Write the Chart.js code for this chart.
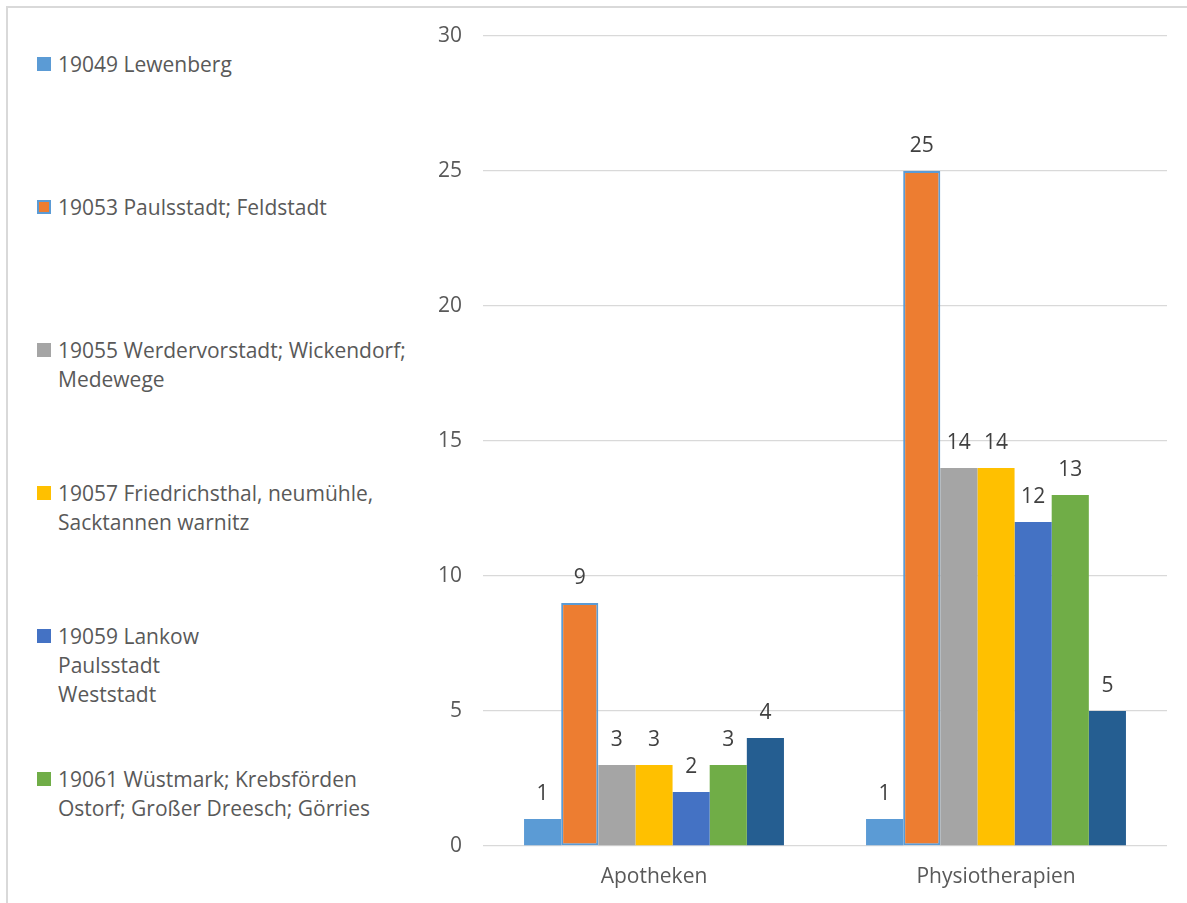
<!DOCTYPE html>
<html lang="de">
<head>
<meta charset="utf-8">
<title>Apotheken und Physiotherapien</title>
<script src="https://cdn.jsdelivr.net/npm/chart.js@4.4.1/dist/chart.umd.min.js"></script>
<style>
    html, body { margin: 0; padding: 0; background: #fff; overflow: hidden; }
    body { width: 1187px; height: 903px; position: relative; font-family: "Open Sans", sans-serif; }
    #rahmen { position: absolute; left: 6px; top: 6px; width: 1300px; height: 1000px; border: 2px solid #d9d9d9; }
    #legende { position: absolute; left: 37px; top: 49.5px; }
    .eintrag { height: 143px; display: flex; align-items: flex-start; }
    .kasten { width: 14px; height: 14px; margin-top: 7.5px; margin-right: 7px; box-sizing: border-box; flex: none; }
    .text { font-size: 21px; line-height: 29px; color: #595959; white-space: pre-line; }
    #diagramm { position: absolute; left: 420px; top: 0; width: 767px; height: 903px; }
</style>
</head>
<body>
<div id="rahmen"></div>
<div id="legende"></div>
<div id="diagramm"><canvas id="grafik"></canvas></div>
<script>
// Kategorien und Werte
const kategorien = ["Apotheken", "Physiotherapien"];

const bezirke = [
    "19049 Lewenberg",
    "19053 Paulsstadt; Feldstadt",
    "19055 Werdervorstadt; Wickendorf;\nMedewege",
    "19057 Friedrichsthal, neumühle,\nSacktannen warnitz",
    "19059 Lankow\nPaulsstadt\nWeststadt",
    "19061 Wüstmark; Krebsförden\nOstorf; Großer Dreesch; Görries",
    "19063 Mueßer Holz; Neu Zippendorf"
];

const werte = [
    [1, 1],
    [9, 25],
    [3, 14],
    [3, 14],
    [2, 12],
    [3, 13],
    [4, 5]
];

const farben = ["#5B9BD5", "#ED7D31", "#A5A5A5", "#FFC000", "#4472C4", "#70AD47", "#255E91"];

const yTicks = [0, 5, 10, 15, 20, 25, 30];

// Datensätze aufbauen (der orange Balken hat im Original einen blauen Rand)
const datensaetze = bezirke.map((name, i) => ({
    label: name,
    data: werte[i],
    backgroundColor: farben[i],
    borderColor: i === 1 ? "#5B9BD5" : farben[i],
    borderWidth: i === 1 ? 2 : 0,
    borderSkipped: i === 1 ? false : "start"
}));

// Legende links (HTML)
const legende = document.getElementById("legende");
datensaetze.forEach(d => {
    const eintrag = document.createElement("div");
    eintrag.className = "eintrag";
    const kasten = document.createElement("div");
    kasten.className = "kasten";
    kasten.style.background = d.backgroundColor;
    if (d.borderWidth > 0) kasten.style.border = "2px solid " + d.borderColor;
    const text = document.createElement("div");
    text.className = "text";
    text.textContent = d.label;
    eintrag.appendChild(kasten);
    eintrag.appendChild(text);
    legende.appendChild(eintrag);
});

// Werte über den Balken
const wertBeschriftung = {
    id: "wertBeschriftung",
    afterDatasetsDraw(chart) {
        const ctx = chart.ctx;
        ctx.save();
        ctx.font = "21px 'Open Sans'";
        ctx.fillStyle = "#404040";
        ctx.textAlign = "center";
        ctx.textBaseline = "middle";
        chart.data.datasets.forEach((ds, i) => {
            const meta = chart.getDatasetMeta(i);
            meta.data.forEach((bar, j) => {
                ctx.fillText(String(ds.data[j]), bar.x, bar.y - 25);
            });
        });
        ctx.restore();
    }
};

const ctx = document.getElementById("grafik").getContext("2d");
new Chart(ctx, {
    type: "bar",
    data: {
        labels: kategorien,
        datasets: datensaetze
    },
    options: {
        responsive: true,
        maintainAspectRatio: false,
        animation: false,
        categoryPercentage: 0.76,
        barPercentage: 1,
        layout: { padding: { top: 36, right: 20, bottom: 0, left: 0 } },
        plugins: {
            legend: { display: false },
            tooltip: { enabled: true }
        },
        scales: {
            x: {
                grid: { display: false, drawTicks: false },
                border: { display: false },
                ticks: { color: "#595959", font: { family: "Open Sans", size: 21 }, padding: 18 },
                afterFit: (scale) => { scale.height = 57; }
            },
            y: {
                min: 0,
                max: 30,
                afterBuildTicks: (scale) => { scale.ticks = yTicks.map(v => ({ value: v })); },
                grid: { color: "#d9d9d9", lineWidth: 1.3, drawTicks: false },
                border: { display: false },
                ticks: { color: "#595959", font: { family: "Open Sans", size: 21 }, padding: 21 },
                afterFit: (scale) => { scale.width = 63; }
            }
        }
    },
    plugins: [wertBeschriftung]
});
</script>
</body>
</html>
